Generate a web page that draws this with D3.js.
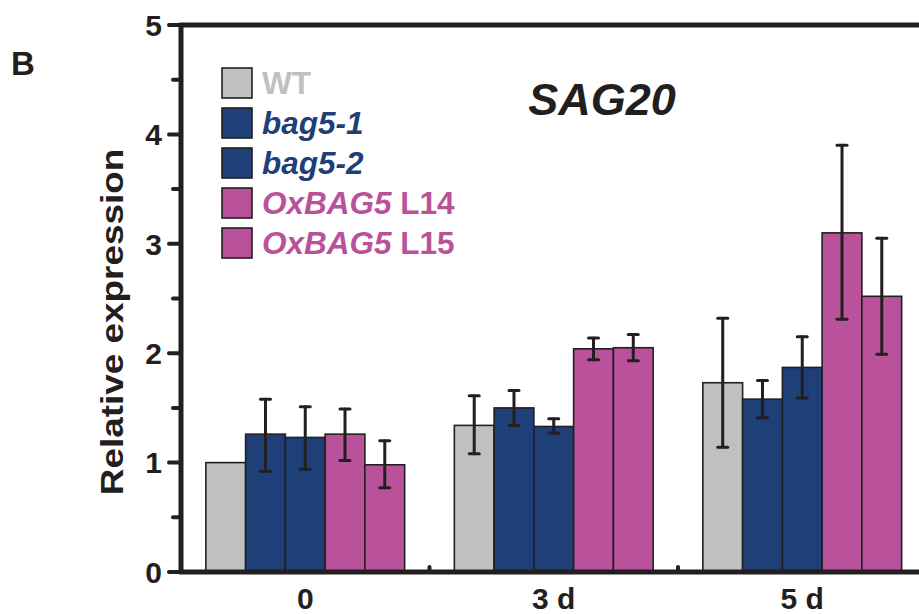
<!DOCTYPE html>
<html>
<head>
<meta charset="utf-8">
<script src="https://cdn.jsdelivr.net/npm/d3@7"></script>
<style>
  body { margin: 0; background: #fff; }
  text { font-family: "Liberation Sans", Arial, sans-serif; font-weight: bold; }
</style>
</head>
<body>
<svg id="chart"></svg>
<script>
var viewWidth = 919;
var viewHeight = 614;

// data
var days = ["0", "3 d", "5 d"];
var lines = ["WT", "bag5-1", "bag5-2", "OxBAG5 L14", "OxBAG5 L15"];
var lineColors = ["#c0c0c0", "#1e3f78", "#1e3f78", "#b9529b", "#b9529b"];
var means = [
  [1.00, 1.26, 1.23, 1.26, 0.98],
  [1.34, 1.50, 1.33, 2.04, 2.05],
  [1.73, 1.58, 1.87, 3.10, 2.52]
];
var errLow = [
  [1.00, 0.92, 0.94, 1.02, 0.77],
  [1.08, 1.34, 1.27, 1.94, 1.93],
  [1.14, 1.41, 1.59, 2.31, 1.99]
];
var errHigh = [
  [1.00, 1.58, 1.51, 1.49, 1.20],
  [1.61, 1.66, 1.40, 2.14, 2.17],
  [2.32, 1.75, 2.15, 3.90, 3.05]
];
var yTicks = [0, 1, 2, 3, 4, 5];
var yMinor = [0.5, 1.5, 2.5, 3.5, 4.5];

var ink = "#231f20";
var margin = {top: 25, left: 181, bottom: 42};
var plotH = viewHeight - margin.top - margin.bottom;

var svg = d3.select("#chart")
    .attr("width", viewWidth)
    .attr("height", viewHeight);

var x = d3.scaleLinear()
  .domain([-0.5, 2.5])
  .range([margin.left, margin.left + 3 * 248.5]);
var y = d3.scaleLinear()
  .domain([0, 5])
  .range([margin.top + plotH, margin.top]);

var barW = x(0.16) - x(0);

// bars
var bars = [];
for (var g = 0; g < days.length; g++) {
  for (var i = 0; i < lines.length; i++) {
    bars.push({g: g, i: i, v: means[g][i], lo: errLow[g][i], hi: errHigh[g][i]});
  }
}

svg.selectAll(".bar")
  .data(bars)
  .enter().append("rect")
  .attr("class", "bar")
  .attr("x", function(d) { return x(d.g + (d.i - 2.5) * 0.16); })
  .attr("width", barW)
  .attr("y", function(d) { return y(d.v); })
  .attr("height", function(d) { return y(0) - y(d.v); })
  .style("fill", function(d) { return lineColors[d.i]; })
  .style("stroke", ink)
  .style("stroke-width", 1.6);

// error bars
var eb = svg.selectAll(".err")
  .data(bars.filter(function(d) { return d.hi > d.lo; }))
  .enter().append("g")
  .attr("class", "err")
  .style("stroke", ink)
  .style("stroke-width", 3)
  .style("stroke-linecap", "round");

eb.append("line")
  .attr("x1", function(d) { return x(d.g + (d.i - 2) * 0.16); })
  .attr("x2", function(d) { return x(d.g + (d.i - 2) * 0.16); })
  .attr("y1", function(d) { return y(d.lo); })
  .attr("y2", function(d) { return y(d.hi); });

[function(d) { return d.lo; }, function(d) { return d.hi; }].forEach(function(f) {
  eb.append("line")
    .attr("x1", function(d) { return x(d.g + (d.i - 2) * 0.16) - 5; })
    .attr("x2", function(d) { return x(d.g + (d.i - 2) * 0.16) + 5; })
    .attr("y1", function(d) { return y(f(d)); })
    .attr("y2", function(d) { return y(f(d)); });
});

// frame: left axis, bottom axis, top line
var frame = svg.append("g")
  .style("stroke", ink)
  .style("stroke-width", 5);
frame.append("line")
  .attr("x1", x(-0.5)).attr("x2", x(-0.5))
  .attr("y1", y(5) - 2).attr("y2", y(0) + 2);
frame.append("line")
  .attr("x1", x(-0.5) - 2).attr("x2", x(2.5))
  .attr("y1", y(0)).attr("y2", y(0));
frame.append("line")
  .attr("x1", x(-0.5) - 2).attr("x2", x(2.5))
  .attr("y1", y(5)).attr("y2", y(5));

// y ticks
svg.selectAll(".ytick")
  .data(yTicks)
  .enter().append("line")
  .attr("x1", x(-0.5) - 12).attr("x2", x(-0.5))
  .attr("y1", function(d) { return y(d); })
  .attr("y2", function(d) { return y(d); })
  .style("stroke", ink).style("stroke-width", 4).style("stroke-linecap", "round");

svg.selectAll(".yminor")
  .data(yMinor)
  .enter().append("line")
  .attr("x1", x(-0.5) - 8).attr("x2", x(-0.5))
  .attr("y1", function(d) { return y(d); })
  .attr("y2", function(d) { return y(d); })
  .style("stroke", ink).style("stroke-width", 4).style("stroke-linecap", "round");

svg.selectAll(".ylab")
  .data(yTicks)
  .enter().append("text")
  .attr("x", x(-0.5) - 19)
  .attr("y", function(d) { return y(d); })
  .attr("dy", "0.36em")
  .style("text-anchor", "end")
  .style("font-size", "30px")
  .style("fill", ink)
  .text(function(d) { return d; });

// x minor ticks between groups
svg.selectAll(".xminor")
  .data([0.5, 1.5])
  .enter().append("line")
  .attr("x1", function(d) { return x(d); })
  .attr("x2", function(d) { return x(d); })
  .attr("y1", y(0)).attr("y2", y(0) - 5)
  .style("stroke", ink).style("stroke-width", 4).style("stroke-linecap", "round");

svg.selectAll(".xlab")
  .data(days)
  .enter().append("text")
  .attr("x", function(d, i) { return x(i); })
  .attr("y", 609)
  .style("text-anchor", "middle")
  .style("font-size", "30px")
  .style("fill", ink)
  .text(function(d) { return d; });

// axis title (glyphs in the figure are a little wider than Arial)
svg.append("text")
  .attr("transform", "translate(123," + 322 + ") rotate(-90) scale(1.19,1)")
  .style("text-anchor", "middle")
  .style("font-size", "31px")
  .style("fill", ink)
  .text("Relative expression");

// panel letter and gene name
svg.append("text")
  .attr("x", 11).attr("y", 75)
  .style("font-size", "33px")
  .style("fill", ink)
  .text("B");

svg.append("text")
  .attr("x", 602).attr("y", 115)
  .style("text-anchor", "middle")
  .style("font-size", "45px")
  .style("font-style", "italic")
  .style("fill", ink)
  .text("SAG20");

// legend
var legend = svg.selectAll(".legend")
  .data(lines)
  .enter().append("g")
  .attr("class", "legend")
  .attr("transform", function(d, i) { return "translate(222," + (68 + i * 40) + ")"; });

legend.append("rect")
  .attr("width", 30).attr("height", 30)
  .style("fill", function(d, i) { return lineColors[i]; })
  .style("stroke", ink)
  .style("stroke-width", 1.6);

var lt = legend.append("text")
  .attr("x", 40).attr("y", 26)
  .style("font-size", "31.5px")
  .style("fill", function(d, i) { return lineColors[i]; });

lt.each(function(d) {
  var t = d3.select(this);
  var parts = d.split(" ");
  if (d == "WT") {
    t.append("tspan").text(d);
  } else if (parts.length == 1) {
    t.append("tspan").style("font-style", "italic").text(d);
  } else {
    t.append("tspan").style("font-style", "italic").text(parts[0]);
    t.append("tspan").text(" " + parts[1]);
  }
});
</script>
</body>
</html>
